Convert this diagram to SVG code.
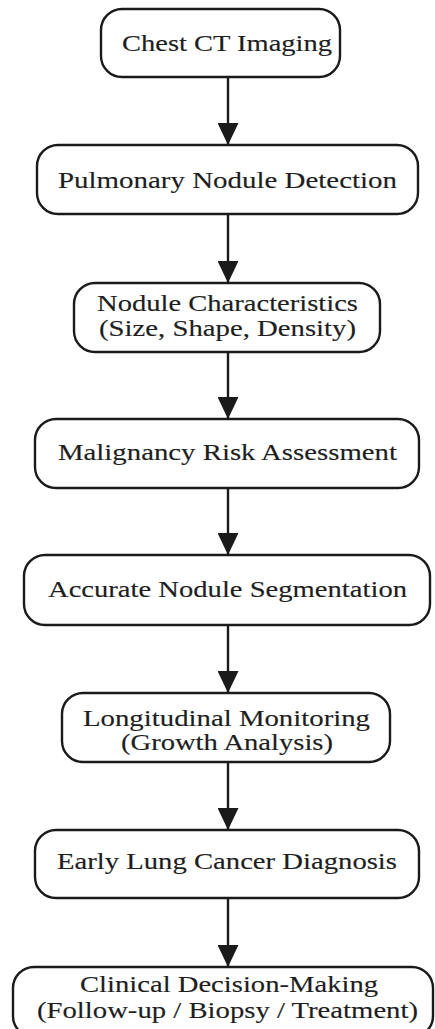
<svg xmlns="http://www.w3.org/2000/svg" width="435" height="1029" viewBox="0 0 435 1029">
  <style>
    .box { fill: #ffffff; stroke: #1a1a1a; stroke-width: 2.4; }
    .lbl { font-family: "Liberation Serif", "Times New Roman", serif; font-size: 24px; fill: #1e1e1e; stroke: #1e1e1e; stroke-width: 0.15; text-anchor: middle; }
    .edge { stroke: #1a1a1a; stroke-width: 2.4; fill: none; marker-end: url(#head); }
  </style>
  <defs>
    <marker id="head" viewBox="0 0 22 21" refX="22" refY="10.5" markerWidth="22" markerHeight="21" markerUnits="userSpaceOnUse" orient="auto">
      <path d="M0,0 L22,10.5 L0,21 z" fill="#1a1a1a"/>
    </marker>
  </defs>
  <rect width="435" height="1029" fill="#ffffff"/>

  <!-- flow connectors -->
  <g id="connectors">
    <line class="edge" x1="228" y1="77" x2="228" y2="145"/>
    <line class="edge" x1="228" y1="214" x2="228" y2="283"/>
    <line class="edge" x1="228" y1="352" x2="228" y2="419"/>
    <line class="edge" x1="228" y1="488" x2="228" y2="555"/>
    <line class="edge" x1="228" y1="625" x2="228" y2="693"/>
    <line class="edge" x1="228" y1="762" x2="228" y2="830"/>
    <line class="edge" x1="228" y1="898" x2="228" y2="967"/>
  </g>

  <g id="node-ct">
    <rect class="box" x="101" y="9" width="239" height="68" rx="21"/>
    <text class="lbl" x="227" y="51" textLength="210" lengthAdjust="spacingAndGlyphs">Chest CT Imaging</text>
  </g>

  <g id="node-detection">
    <rect class="box" x="37" y="145" width="381" height="69" rx="21"/>
    <text class="lbl" x="227.5" y="188" textLength="339" lengthAdjust="spacingAndGlyphs">Pulmonary Nodule Detection</text>
  </g>

  <g id="node-characteristics">
    <rect class="box" x="74" y="283" width="306" height="69" rx="21"/>
    <text class="lbl" x="227.5" y="311" textLength="261" lengthAdjust="spacingAndGlyphs">Nodule Characteristics</text>
    <text class="lbl" x="227.5" y="336" textLength="257" lengthAdjust="spacingAndGlyphs">(Size, Shape, Density)</text>
  </g>

  <g id="node-risk">
    <rect class="box" x="35" y="419" width="384" height="69" rx="21"/>
    <text class="lbl" x="227.5" y="460" textLength="339" lengthAdjust="spacingAndGlyphs">Malignancy Risk Assessment</text>
  </g>

  <g id="node-segmentation">
    <rect class="box" x="24" y="555" width="406" height="70" rx="21"/>
    <text class="lbl" x="227.5" y="597" textLength="359" lengthAdjust="spacingAndGlyphs">Accurate Nodule Segmentation</text>
  </g>

  <g id="node-monitoring">
    <rect class="box" x="62" y="693" width="328" height="69" rx="21"/>
    <text class="lbl" x="226.5" y="726" textLength="287" lengthAdjust="spacingAndGlyphs">Longitudinal Monitoring</text>
    <text class="lbl" x="227" y="750" textLength="212" lengthAdjust="spacingAndGlyphs">(Growth Analysis)</text>
  </g>

  <g id="node-diagnosis">
    <rect class="box" x="35" y="830" width="384" height="68" rx="21"/>
    <text class="lbl" x="227" y="869" textLength="340" lengthAdjust="spacingAndGlyphs">Early Lung Cancer Diagnosis</text>
  </g>

  <g id="node-decision">
    <rect class="box" x="13" y="967" width="420" height="70" rx="21"/>
    <text class="lbl" x="229" y="992" textLength="298" lengthAdjust="spacingAndGlyphs">Clinical Decision-Making</text>
    <text class="lbl" x="227.5" y="1018" textLength="381" lengthAdjust="spacingAndGlyphs">(Follow-up / Biopsy / Treatment)</text>
  </g>
</svg>
